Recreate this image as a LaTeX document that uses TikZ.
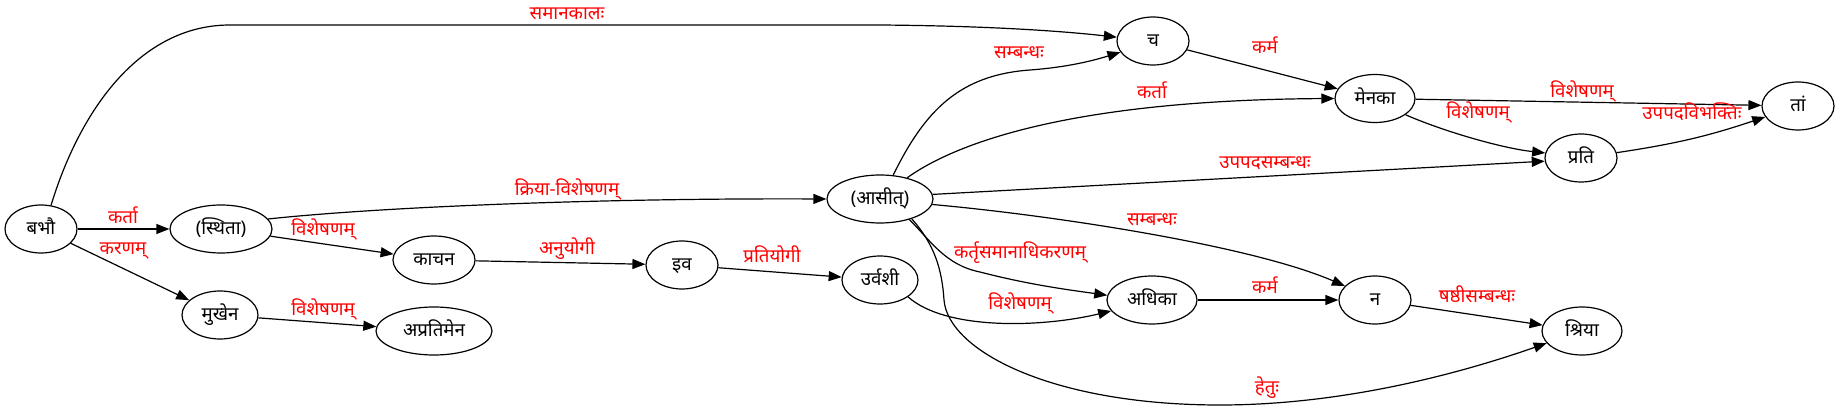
\documentclass[tikz,border=0pt]{standalone}
\usepackage{fontspec}
\setmainfont[Script=Devanagari]{Noto Sans}
\usetikzlibrary{arrows.meta,shapes.geometric}
\newcommand{\zb}[1]{\makebox[0pt]{#1}}
\begin{document}
\begin{tikzpicture}[x=1pt,y=-1pt,
  wn/.style={draw,ellipse,line width=1.2pt,inner sep=0pt,minimum height=48pt,
    text height=14pt,text depth=2pt,font=\fontsize{18.7}{20}\selectfont},
  el/.style={text=red,inner sep=0pt,text height=14pt,text depth=2pt,
    font=\fontsize{18.7}{20}\selectfont},
  ed/.style={line width=1.2pt,-{Triangle[length=13pt,width=10pt]}}]
\fill[white] (0,0) rectangle (1840,411);
\useasboundingbox (0,0) rectangle (1840,411);
% nodes
\node[wn,minimum width=72pt] (babhau) at (41,229) {\zb{बभौ}};
\node[wn,minimum width=102pt] (sthita) at (221,229) {\zb{(स्थिता)}};
\node[wn,minimum width=82pt] (kacana) at (434,260) {\zb{काचन}};
\node[wn,minimum width=76pt] (mukhena) at (220,315) {\zb{मुखेन}};
\node[wn,minimum width=116pt] (apratimena) at (434,331) {\zb{अप्रतिमेन}};
\node[wn,minimum width=72pt] (iva) at (682,265) {\zb{इव}};
\node[wn,minimum width=76pt] (urvashi) at (880,280) {\zb{उर्वशी}};
\node[wn,minimum width=106pt] (asit) at (880,199) {\zb{(आसीत्)}};
\node[wn,minimum width=72pt] (ca) at (1153,41) {\zb{च}};
\node[wn,minimum width=80pt] (menaka) at (1375,98.5) {\zb{मेनका}};
\node[wn,minimum width=72pt] (prati) at (1581,158) {\zb{प्रति}};
\node[wn,minimum width=72pt] (tam) at (1798,106) {\zb{तां}};
\node[wn,minimum width=90pt] (adhika) at (1152,300) {\zb{अधिका}};
\node[wn,minimum width=72pt] (na) at (1375,300) {\zb{न}};
\node[wn,minimum width=80pt] (shriya) at (1582,331) {\zb{श्रिया}};
% edges
\draw[ed] (babhau.67) .. controls (80,110) and (140,25) .. (230,25) -- (880,25) .. controls (1000,26) and (1070,32) .. (ca.174);
\draw[ed] (asit.61) .. controls (925,110) and (960,75) .. (1030,70) .. controls (1070,67) and (1095,60) .. (ca.199);
\draw[ed] (asit.38) .. controls (960,140) and (1080,100) .. (menaka.west);
\draw[ed] (ca) -- (menaka);
\draw[ed] (menaka) -- (tam);
\draw[ed] (menaka.-28) .. controls (1440,130) and (1500,148) .. (prati.172);
\draw[ed] (prati) to[bend right=5] (tam);
\draw[ed] (asit.5) -- (prati.185);
\draw[ed] (asit.-6) .. controls (1050,215) and (1250,245) .. (na.155);
\draw[ed] (asit.-35) .. controls (930,240) and (945,265) .. (980,272) .. controls (1030,285) and (1070,290) .. (adhika.174);
\draw[ed] (asit.-32) .. controls (935,245) and (942,270) .. (944,300) .. controls (948,350) and (1050,405) .. (1220,405) .. controls (1350,405) and (1470,370) .. (shriya.199);
\draw[ed] (urvashi.-31) .. controls (945,330) and (1040,328) .. (adhika.195);
\draw[ed] (adhika) -- (na);
\draw[ed] (na) -- (shriya);
\draw[ed] (sthita.12) .. controls (380,207) and (600,198) .. (asit.west);
\draw[ed] (sthita) -- (kacana);
\draw[ed] (kacana) -- (iva);
\draw[ed] (iva) -- (urvashi);
\draw[ed] (babhau) -- (sthita);
\draw[ed] (babhau) -- (mukhena);
\draw[ed] (mukhena) -- (apratimena);
% edge labels
\node[el] (l1) at (567,14) {समानकालः};
\node[el] (l2) at (123,218) {कर्ता};
\node[el] (l3) at (123,249) {करणम्};
\node[el] (l4) at (567,190) {क्रिया-विशेषणम्};
\node[el] (l5) at (323,230) {विशेषणम्};
\node[el] (l6) at (323,310) {विशेषणम्};
\node[el] (l7) at (567,249) {अनुयोगी};
\node[el] (l8) at (772,257) {प्रतियोगी};
\node[el] (l9) at (1019,53) {सम्बन्धः};
\node[el] (l10) at (1152,93) {कर्ता};
\node[el] (l11) at (1265,48) {कर्म};
\node[el] (l12) at (1265,163) {उपपदसम्बन्धः};
\node[el] (l13) at (1152,220) {सम्बन्धः};
\node[el] (l14) at (1020,253) {कर्तृसमानाधिकरणम्};
\node[el] (l15) at (1020,304) {विशेषणम्};
\node[el] (l16) at (1267,388) {हेतुः};
\node[el] (l17) at (1265,288) {कर्म};
\node[el] (l18) at (1582,92) {विशेषणम्};
\node[el] (l19) at (1478,113) {विशेषणम्};
\node[el] (l20) at (1692,114) {उपपदविभक्तिः};
\node[el] (l21) at (1477,297) {षष्ठीसम्बन्धः};
\end{tikzpicture}
\end{document}
